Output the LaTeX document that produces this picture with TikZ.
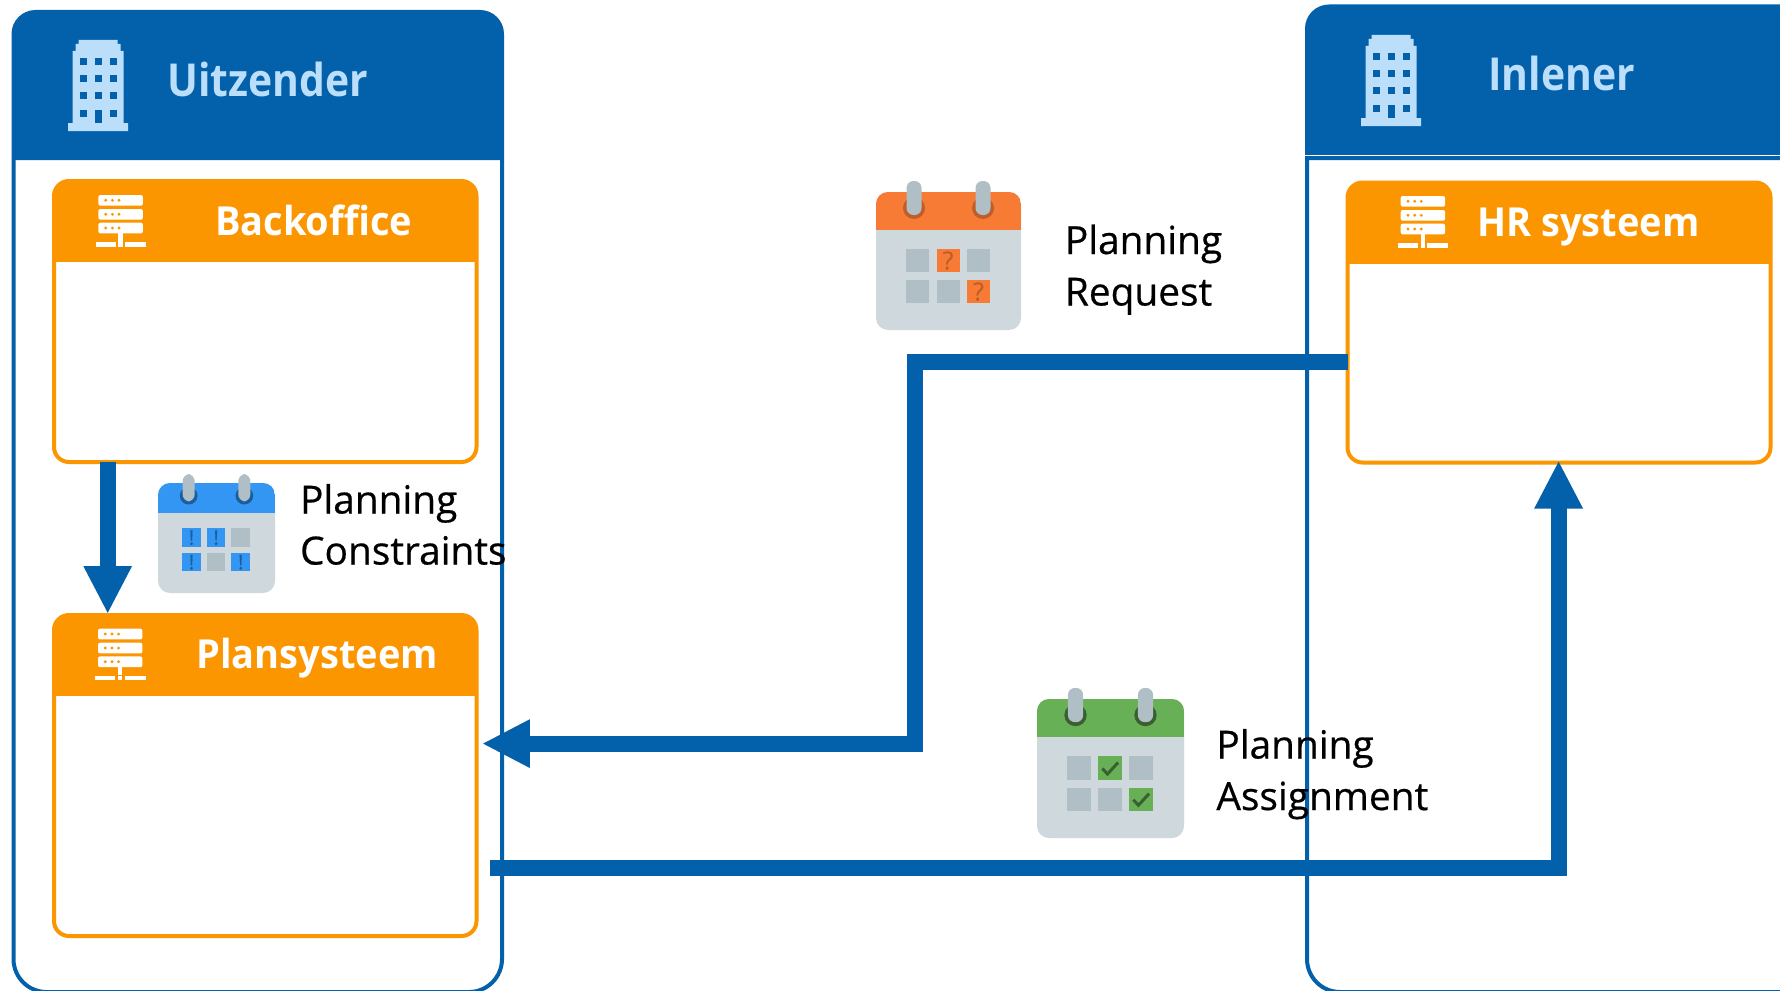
\documentclass[tikz,border=0pt]{standalone}
\usepackage{fontspec}
\setmainfont{Open Sans}
\newfontfamily\labelfont[FakeBold=0.5]{Open Sans}
\newfontfamily\orgfont[FakeStretch=0.9]{Open Sans Bold}
\newfontfamily\sysfont[FakeStretch=0.95]{Open Sans Bold}
\usetikzlibrary{arrows.meta}
\definecolor{cblue}{HTML}{0361AB}
\definecolor{corange}{HTML}{FB9500}
\definecolor{clight}{HTML}{BBDEFB}
\definecolor{cgrey}{HTML}{CFD8DC}
\definecolor{ccell}{HTML}{B0BEC5}
\definecolor{calblue}{HTML}{3396F3}
\definecolor{calblued}{HTML}{1A5E9E}
\definecolor{calor}{HTML}{F77B35}
\definecolor{calord}{HTML}{BE5F2B}
\definecolor{calgr}{HTML}{68B056}
\definecolor{calgrd}{HTML}{3A5F30}
\tikzset{
  orgline/.style={draw=cblue,line width=2pt},
  sysbox/.style={draw=corange,line width=2pt,rounded corners=7.5pt,inner sep=0pt,outer sep=0pt,fill=white,
    path picture={\fill[corange,sharp corners] (path picture bounding box.north west) rectangle ([yshift=-40.5pt]path picture bounding box.north east);}},
  orgtitle/.style={anchor=base west,inner sep=0pt,text=clight,font=\orgfont\fontsize{22.7}{28}\selectfont},
  systitle/.style={anchor=base west,inner sep=0pt,text=white,font=\sysfont\fontsize{20}{24}\selectfont},
  doclabel/.style={anchor=base west,inner sep=0pt,text=black,font=\labelfont\fontsize{19.4}{26}\selectfont},
  flow/.style={draw=cblue,line width=8pt,line join=miter,-{Triangle[length=24pt,width=22.5pt]}},
  calmark/.style={inner sep=0pt}
}
\newcommand\buildingicon[2]{%
  \begin{scope}[shift={(#1,#2)}]
    \fill[clight] (0,91) -- (0,83) -- (4.5,83) -- (4.5,11) -- (7.5,11) -- (7.5,4) -- (10.5,4) -- (10.5,0) -- (49.5,0) -- (49.5,4) -- (52.5,4) -- (52.5,11) -- (55.5,11) -- (55.5,83) -- (60,83) -- (60,91) -- cycle;
    \foreach \wy in {18.5,35.5,52.5,70}{
      \fill[cblue] (12,\wy) rectangle ++(6.7,6.5);
      \fill[cblue] (42,\wy) rectangle ++(6.7,6.5);}
    \foreach \wy in {18.5,35.5,52.5}{\fill[cblue] (27,\wy) rectangle ++(6.7,6.5);}
    \fill[cblue] (27,70) rectangle (33.7,83);
  \end{scope}}
\newcommand\servericon[2]{%
  \begin{scope}[shift={(#1,#2)}]
    \foreach \ry in {0,14,27.7}{
      \fill[white,rounded corners=1pt] (2.7,\ry) rectangle ++(44.4,10.7);
      \foreach \dx in {10,16.7,23.3}{\fill[corange] (\dx,\ry+5.3) circle[radius=0.8pt];}}
    \fill[white] (22.7,38.3) rectangle (27,46.7);
    \fill[white] (0,47) rectangle (20,51.7);
    \fill[white] (22.7,47) rectangle (27,51.7);
    \fill[white] (29.3,47) rectangle (50.3,51.7);
  \end{scope}}
\newcommand\calicon[9]{% id,x,y,W,H,color,dark,marksize,body
  \begin{scope}[shift={(#2,#3)},xscale=#4/145,yscale=#5/138]
    \def\calid{#1}\def\calcol{#6}\def\caldark{#7}\def\calfs{#8}
    \fill[cgrey,rounded corners=6pt] (0,0) rectangle (145,138);
    \begin{scope}
      \clip[rounded corners=6pt] (0,0) rectangle (145,138);
      \fill[#6] (0,0) rectangle (145,38);
    \end{scope}
    \foreach \cx in {38,107}{
      \fill[#7] (\cx,16) circle[x radius=5.5pt,y radius=5.5pt];
      \fill[ccell,rounded corners=3.5pt] (\cx-7.5,-11) rectangle (\cx+7.5,23);}
    \foreach \ci in {0,1,2}\foreach \cj in {0,1}{
      \fill[ccell] (30+30.5*\ci,57+31*\cj) rectangle ++(23,23);}
    #9
  \end{scope}}
\newcommand\cellmark[3]{%
  \begin{scope}[shift={(30+30.5*#1,57+31*#2)}]
    \fill[\calcol] (0,0) rectangle (23,23);
    \node[calmark,text=\caldark,font=\labelfont\fontsize{\calfs}{\calfs}\selectfont] (\calid-#1-#2) at (11.5,11.5) {#3};
  \end{scope}}
\newcommand\cellcheck[2]{%
  \begin{scope}[shift={(30+30.5*#1,57+31*#2)}]
    \fill[\calcol] (0,0) rectangle (23,23);
    \draw[\caldark,line width=1.5pt] (4,12) -- (9,17.5) -- (19.5,6);
  \end{scope}}
\begin{document}
\begin{tikzpicture}[x=0.5pt,y=-0.5pt]
\useasboundingbox (0,0) rectangle (1780,990);
\fill[white] (0,0) rectangle (1780,990);

% organisations
\fill[cblue,rounded corners=11pt] (13.5,160) -- (13.5,12) -- (502,12) -- (502,160);
\draw[orgline] (13.5,500) [rounded corners=11pt] -- (13.5,12) -- (502,12) -- (502,500) [rounded corners=16.5pt] -- (502,992) -- (13.5,992) -- cycle;
\fill[cblue,rounded corners=11pt] (1307,160) -- (1307,6.5) -- (1900,6.5) -- (1900,160);
\draw[orgline] (1307,500) [rounded corners=11pt] -- (1307,6.5) -- (1900,6.5) -- (1900,500) [rounded corners=16.5pt] -- (1900,992) -- (1307,992) -- cycle;
\fill[white] (1305,155) rectangle (1780,156.4);
\buildingicon{68}{40}
\buildingicon{1361}{35}
\node[orgtitle] (uitzendertitle) at (167,97) {Uitzender};
\node[orgtitle] (inlenertitle) at (1488,90.5) {Inlener};

% systems
\node[sysbox,minimum width=211.25pt,minimum height=140.5pt] (backoffice) at (265.25,321.5) {};
\node[sysbox,minimum width=211.25pt,minimum height=160.5pt] (plansysteem) at (265.25,775.5) {};
\node[sysbox,minimum width=211.5pt,minimum height=140pt] (hr) at (1559,322.5) {};
\servericon{95.7}{195}
\servericon{95.3}{628.7}
\servericon{1398}{196}
\node[systitle] (backofficetitle) at (214.7,235) {Backoffice};
\node[systitle] (plansysteemtitle) at (196,668.5) {Plansysteem};
\node[systitle] (hrtitle) at (1477,236) {HR systeem};

% calendars
\calicon{calc}{158}{483}{117}{110}{calblue}{calblued}{10}{%
  \cellmark{0}{0}{!}\cellmark{1}{0}{!}\cellmark{0}{1}{!}\cellmark{2}{1}{!}}
\calicon{calr}{876}{192}{145}{138}{calor}{calord}{12.5}{%
  \cellmark{1}{0}{?}\cellmark{2}{1}{?}}
\calicon{cala}{1037}{699}{147}{139}{calgr}{calgrd}{12}{%
  \cellcheck{1}{0}\cellcheck{2}{1}}

% connectors
\coordinate (dn) at (107.7,0);
\draw[flow] (backoffice.south -| dn) -- ([yshift=0.5pt]plansysteem.north -| dn);
\coordinate (rq1) at (0,362);
\coordinate (rq2) at (915,362);
\coordinate (rq3) at (915,743.6);
\draw[flow] (hr.west |- rq1) -- (rq2) -- (rq3) -- ([xshift=2.7pt]plansysteem.east |- rq3);
\coordinate (as1) at (0,868);
\coordinate (as2) at (1558.6,868);
\draw[flow] ([xshift=6.5pt]plansysteem.east |- as1) -- (as2) -- ([yshift=1pt]hr.south -| as2);

% labels
\node[doclabel] (pc1) at (299.7,513.5) {Planning};
\node[doclabel] (pc2) at (299.7,564.5) {Constraints};
\node[doclabel] (pr1) at (1064.5,254) {Planning};
\node[doclabel] (pr2) at (1064.5,305.5) {Request};
\node[doclabel] (pa1) at (1216,758.5) {Planning};
\node[doclabel] (pa2) at (1216,810) {Assignment};
\end{tikzpicture}
\end{document}
